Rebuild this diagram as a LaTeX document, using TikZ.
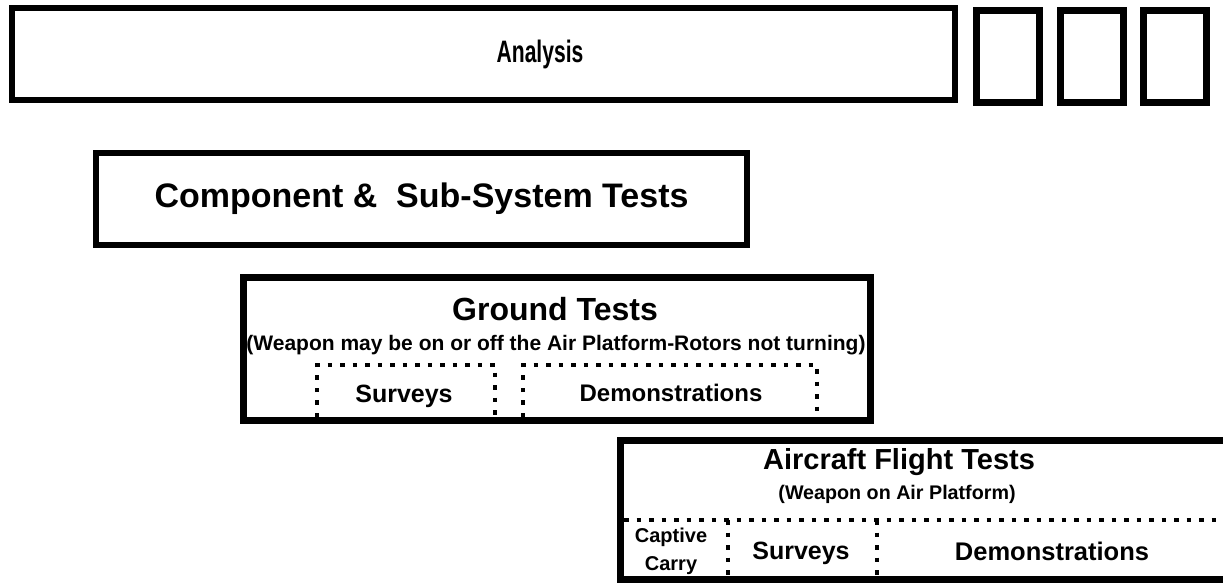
\documentclass[tikz,border=0pt]{standalone}
\usepackage{fontspec}
\setmainfont{Liberation Sans}
\usetikzlibrary{positioning}

\begin{document}
\begin{tikzpicture}[x=1pt, y=-1pt,
    box/.style={rectangle, draw=black, line width=6pt, inner sep=0pt},
    lbl/.style={inner sep=0pt, font=\bfseries\fontsize{#1}{#1}\selectfont},
    lbl/.default=24,
    dotline/.style={line width=4.5pt, dash pattern=on 4.5pt off 8pt}
  ]
    \useasboundingbox (0,0) rectangle (1223,583);

    % top row
    \node[box, minimum width=943pt, minimum height=92pt] (analysis) at (483.5,54) {};
    \node[lbl=31] (analysisTxt) at (540,54) {\scalebox{0.68}[1]{Analysis}};
    \foreach \cx [count=\i] in {1008,1092,1175}
        \node[box, line width=7pt, minimum width=63pt, minimum height=92pt] (slot\i) at (\cx,57) {};

    \node[box, lbl=34, minimum width=651pt, minimum height=92pt] (comp) at (421.5,199) {Component \&~ Sub-System Tests};

    % ground tests
    \node[box, line width=7pt, minimum width=627pt, minimum height=143pt] (ground) at (557,349) {};
    \node[lbl=32] (groundTitle) at (555,309) {Ground Tests};
    \node[lbl=21] (groundSub) at (556,345) {(Weapon may be on or off the Air Platform-Rotors not turning)};
    \draw[dotline] (317,417) |- (495,365) -- (495,417);
    \draw[dotline] (523,417) |- (817,365) -- (817,417);
    \node[lbl=25] (gSurveys) at (404,396) {Surveys};
    \node[lbl=24] (gDemo) at (671,393) {Demonstrations};

    % flight tests, runs off the right edge
    \draw[line width=7pt] (1223,440.5) -| (620.5,579.5) -- (1223,579.5);
    \node[lbl=29] (flightTitle) at (899,462) {Aircraft Flight Tests};
    \node[lbl=19.7] (flightSub) at (897,494) {(Weapon on Air Platform)};
    \draw[dotline] (624,520) -- (1223,520);
    \draw[dotline] (728,520) -- (728,576);
    \draw[dotline] (877,520) -- (877,576);
    \node[lbl=20] (captive) at (671,537) {Captive};
    \node[lbl=20] (carry) at (671,566) {Carry};
    \node[lbl=25] (fSurveys) at (801,553) {Surveys};
    \node[lbl=25.5] (fDemo) at (1052,551) {Demonstrations};
\end{tikzpicture}
\end{document}
